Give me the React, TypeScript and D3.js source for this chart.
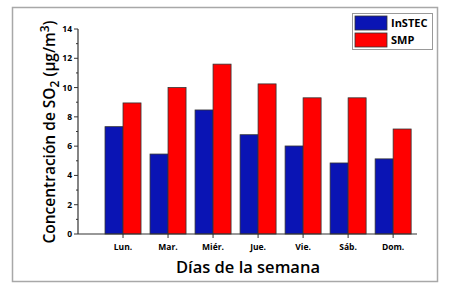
import React from "react";
import * as d3 from "d3";

const days = ["Lun.", "Mar.", "Miér.", "Jue.", "Vie.", "Sáb.", "Dom."];
const instec = [7.33, 5.46, 8.47, 6.78, 6.01, 4.85, 5.13];
const smp = [8.95, 10.0, 11.6, 10.25, 9.3, 9.3, 7.17];
const yTicks = [0, 2, 4, 6, 8, 10, 12, 14];
const yMinor = [1, 3, 5, 7, 9, 11, 13];
const seriesNames = ["InSTEC", "SMP"];
const colors = ["#0A14B4", "#FF0000"];

const FONT = "'Open Sans', sans-serif";

export default function App() {
  const W = 450, H = 290;
  const x = d3.scaleLinear().domain([0, 7.53]).range([78, 417]);
  const y = d3.scaleLinear().domain([0, 14]).range([234, 29]);
  const barW = 18;
  const series = [instec, smp];
  return (
    <svg width={W} height={H} style={{ position: "absolute", left: 0, top: 0, background: "#fff" }}>
      <rect x={12.5} y={7.5} width={425} height={274} fill="#fff" stroke="#a8a8a8" strokeWidth={1.5} />
      {series.map((vals, s) =>
        vals.map((v, i) => {
          const cx = x(i + 1);
          const x0 = s === 0 ? cx - barW : cx;
          return (
            <rect key={`${s}-${i}`} x={x0} y={y(v)} width={barW} height={y(0) - y(v)}
              fill={colors[s]} stroke="#333" strokeWidth={0.8} />
          );
        })
      )}
      {/* y axis */}
      <line x1={78} x2={78} y1={y(14)} y2={y(0)} stroke="#333" strokeWidth={1.2} />
      {yTicks.map((t) => (
        <g key={t}>
          <line x1={74} x2={78} y1={y(t)} y2={y(t)} stroke="#333" strokeWidth={1} />
          <text x={72} y={y(t) + 3} textAnchor="end" fontFamily={FONT} fontWeight={700} fontSize={8.5}>{t}</text>
        </g>
      ))}
      {yMinor.map((t) => (
        <line key={t} x1={76} x2={78} y1={y(t)} y2={y(t)} stroke="#333" strokeWidth={1} />
      ))}
      {/* x axis */}
      <line x1={78} x2={x(7.53)} y1={y(0)} y2={y(0)} stroke="#333" strokeWidth={1.2} />
      {days.map((d, i) => (
        <g key={d}>
          <line x1={x(i + 1)} x2={x(i + 1)} y1={y(0)} y2={y(0) + 4} stroke="#333" strokeWidth={1} />
          <text x={x(i + 1)} y={250} textAnchor="middle" fontFamily={FONT} fontWeight={700} fontSize={8.5}>{d}</text>
        </g>
      ))}
      <text x={248} y={273} textAnchor="middle" fontFamily={FONT} fontWeight={600} fontSize={16.5}>Días de la semana</text>
      <text transform="translate(55,132) rotate(-90)" textAnchor="middle" fontFamily={FONT} fontWeight={600} fontSize={15.5}>
        Concentración de SO<tspan dy={4} fontSize={12}>2</tspan><tspan dy={-4}> (µg/m</tspan><tspan dy={-6} fontSize={12}>3</tspan><tspan dy={6}>)</tspan>
      </text>
      {/* legend */}
      <rect x={352.5} y={13.5} width={80} height={36} fill="#fff" stroke="#999" strokeWidth={1} />
      {seriesNames.map((n, i) => (
        <g key={n}>
          <rect x={355} y={16 + i * 17} width={32} height={14} fill={colors[i]} stroke="#333" strokeWidth={0.8} />
          <text x={391} y={27 + i * 17} fontFamily={FONT} fontWeight={700} fontSize={11}>{n}</text>
        </g>
      ))}
    </svg>
  );
}
